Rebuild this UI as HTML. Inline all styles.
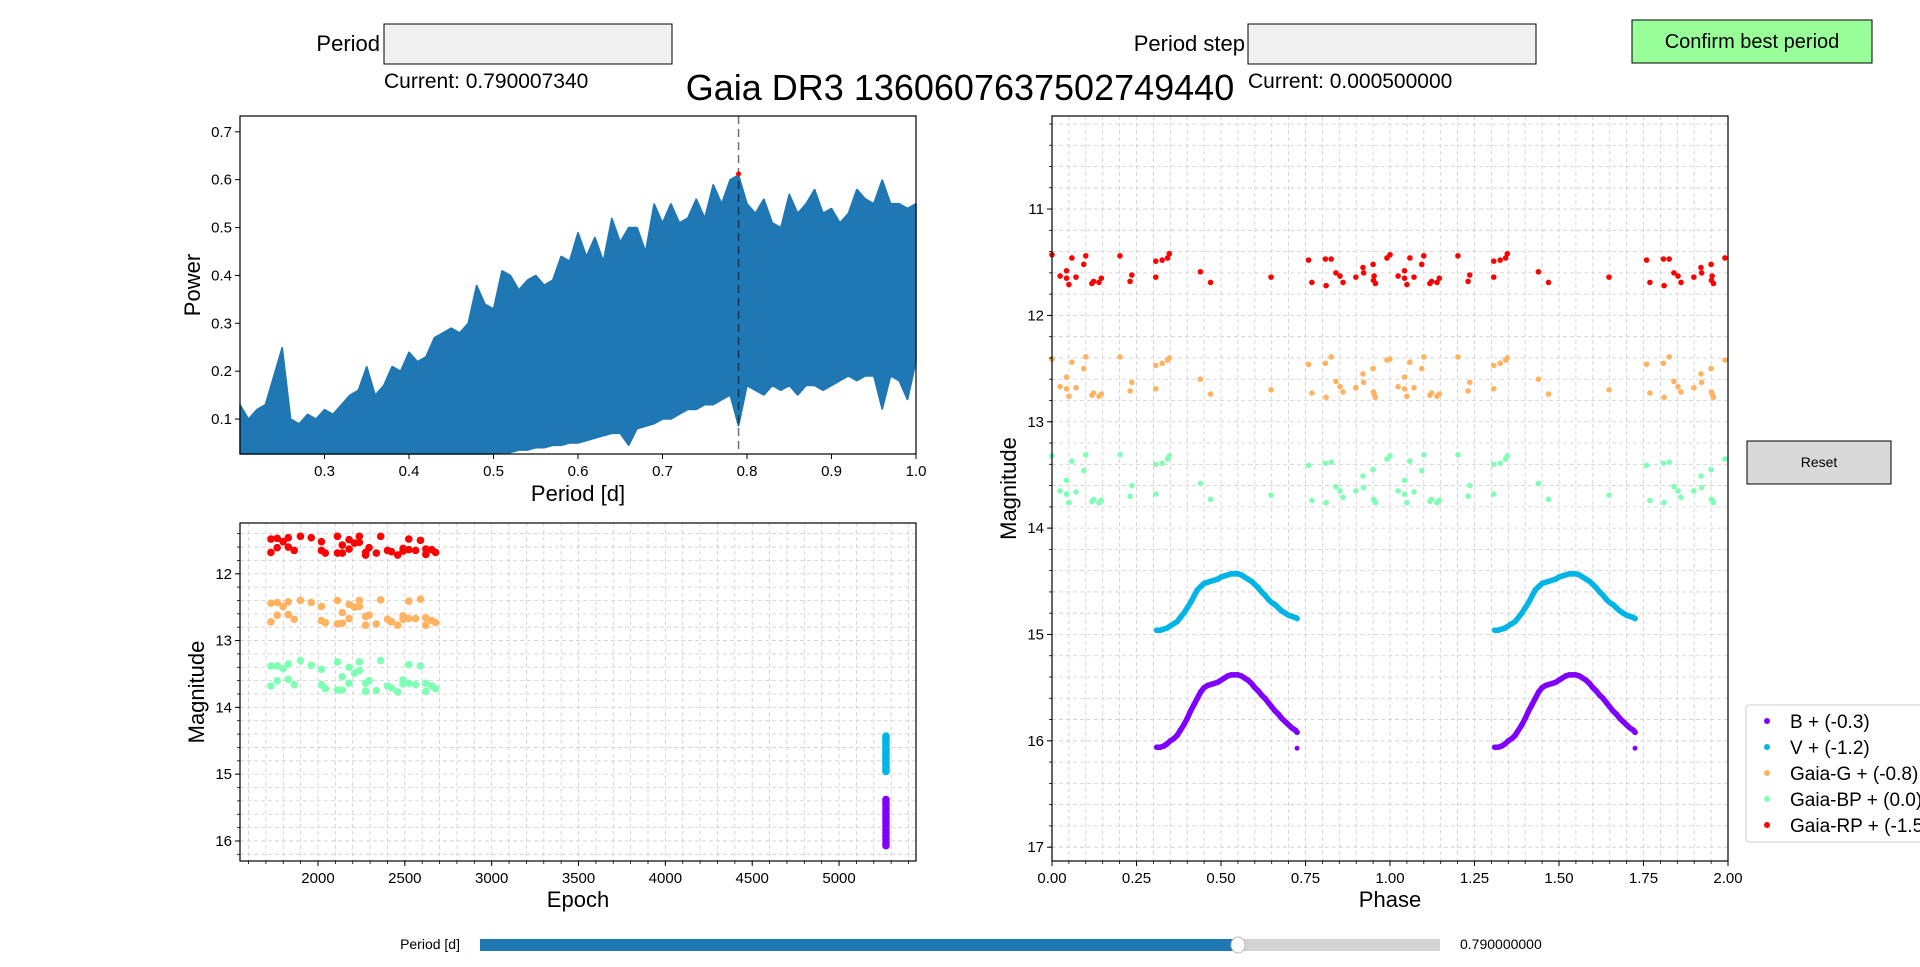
<!DOCTYPE html>
<html><head><meta charset="utf-8"><style>
html,body{margin:0;padding:0;background:#fff;width:1920px;height:967px;overflow:hidden}
svg{display:block;font-family:"Liberation Sans","DejaVu Sans",sans-serif}
</style></head><body>
<svg id="fig" width="1920" height="967" viewBox="0 0 1920 967" xmlns="http://www.w3.org/2000/svg">
<text x="960" y="100" font-size="36" text-anchor="middle">Gaia DR3 1360607637502749440</text>
<text x="380" y="51" font-size="22" text-anchor="end">Period</text>
<rect x="384" y="24" width="288" height="40" fill="#f1f1f1" stroke="#000" stroke-width="1"/>
<text x="384" y="88" font-size="21">Current: 0.790007340</text>
<text x="1245" y="51" font-size="22" text-anchor="end">Period step</text>
<rect x="1248" y="24" width="288" height="40" fill="#f1f1f1" stroke="#000" stroke-width="1"/>
<text x="1248" y="88" font-size="21">Current: 0.000500000</text>
<g><rect x="1632" y="20" width="240" height="43" fill="#99ff99" stroke="#000" stroke-width="1"/><text x="1752" y="48" font-size="20" text-anchor="middle">Confirm best period</text></g>
<g><rect x="1747" y="441" width="144" height="43" fill="#d9d9d9" stroke="#000" stroke-width="1"/><text x="1819" y="467" font-size="14" text-anchor="middle">Reset</text></g>
<g>
<text x="460" y="949" font-size="14" text-anchor="end">Period [d]</text>
<rect x="480" y="939" width="960" height="12" fill="#d3d3d3"/>
<rect x="480" y="939" width="758" height="12" fill="#1f77b4"/>
<ellipse cx="1238" cy="945" rx="7" ry="8" fill="#fff" stroke="#bbb"/>
<text x="1460" y="949" font-size="14">0.790000000</text>
</g>
<g id="g1"></g>
<g id="g2"></g>
<g id="g3"></g>
<g>
<rect x="1746" y="705" width="190" height="137" fill="#fff" stroke="#ccc" rx="3"/>
<circle cx="1767" cy="721" r="3" fill="#8000ff"/><text x="1790" y="728" font-size="19">B + (-0.3)</text>
<circle cx="1767" cy="747" r="3" fill="#00b4e6"/><text x="1790" y="754" font-size="19">V + (-1.2)</text>
<circle cx="1767" cy="773" r="3" fill="#ffb360"/><text x="1790" y="780" font-size="19">Gaia-G + (-0.8)</text>
<circle cx="1767" cy="799" r="3" fill="#80ffb4"/><text x="1790" y="806" font-size="19">Gaia-BP + (0.0)</text>
<circle cx="1767" cy="825" r="3" fill="#ff0000"/><text x="1790" y="832" font-size="19">Gaia-RP + (-1.5)</text>
</g>
</svg>
<script>
// ---- periodogram data ----
const pgPeriods=[0.20,0.21,0.22,0.23,0.24,0.25,0.26,0.27,0.28,0.29,0.30,0.31,0.32,0.33,0.34,0.35,0.36,0.37,0.38,0.39,0.40,0.41,0.42,0.43,0.44,0.45,0.46,0.47,0.48,0.49,0.50,0.51,0.52,0.53,0.54,0.55,0.56,0.57,0.58,0.59,0.60,0.61,0.62,0.63,0.64,0.65,0.66,0.67,0.68,0.69,0.70,0.71,0.72,0.73,0.74,0.75,0.76,0.77,0.78,0.79,0.80,0.81,0.82,0.83,0.84,0.85,0.86,0.87,0.88,0.89,0.90,0.91,0.92,0.93,0.94,0.95,0.96,0.97,0.98,0.99,1.00];
const pgUpper=[0.13,0.10,0.12,0.13,0.19,0.25,0.10,0.09,0.11,0.10,0.12,0.11,0.13,0.15,0.16,0.21,0.15,0.17,0.21,0.20,0.24,0.22,0.23,0.27,0.28,0.29,0.28,0.30,0.38,0.34,0.33,0.41,0.40,0.37,0.39,0.40,0.38,0.39,0.44,0.43,0.49,0.44,0.48,0.43,0.52,0.47,0.50,0.50,0.45,0.55,0.51,0.55,0.51,0.52,0.56,0.52,0.59,0.55,0.60,0.61,0.55,0.53,0.56,0.51,0.50,0.57,0.53,0.55,0.58,0.53,0.54,0.51,0.53,0.58,0.56,0.55,0.60,0.55,0.55,0.54,0.55];
const pgLower=[0.027,0.027,0.027,0.027,0.027,0.027,0.027,0.027,0.027,0.027,0.027,0.027,0.027,0.027,0.027,0.027,0.027,0.027,0.027,0.027,0.027,0.027,0.027,0.027,0.027,0.027,0.027,0.027,0.027,0.027,0.027,0.03,0.03,0.035,0.035,0.04,0.04,0.045,0.045,0.05,0.05,0.055,0.06,0.065,0.07,0.07,0.045,0.08,0.085,0.09,0.10,0.10,0.11,0.12,0.12,0.13,0.13,0.14,0.15,0.085,0.17,0.16,0.15,0.17,0.16,0.17,0.15,0.17,0.17,0.16,0.17,0.18,0.19,0.18,0.19,0.19,0.12,0.19,0.18,0.14,0.22];
const bestPeriod=0.79, bestPower=0.612;
const pgXTicks=[0.3,0.4,0.5,0.6,0.7,0.8,0.9,1.0];
const pgYTicks=[0.1,0.2,0.3,0.4,0.5,0.6,0.7];
// ---- light curve data ----
const bPhase=[0.31,0.32,0.33,0.34,0.35,0.36,0.37,0.38,0.39,0.40,0.41,0.42,0.43,0.44,0.45,0.46,0.47,0.48,0.49,0.50,0.51,0.52,0.53,0.54,0.55,0.56,0.57,0.58,0.59,0.60,0.61,0.62,0.63,0.64,0.65,0.66,0.67,0.68,0.69,0.70,0.71,0.72,0.725];
const bMag=[16.06,16.06,16.05,16.03,16.00,15.98,15.95,15.90,15.85,15.79,15.72,15.66,15.60,15.54,15.50,15.48,15.47,15.46,15.45,15.43,15.41,15.39,15.38,15.38,15.38,15.39,15.41,15.43,15.46,15.50,15.53,15.57,15.60,15.64,15.68,15.72,15.75,15.79,15.82,15.85,15.88,15.90,15.92];
const vPhase=[0.31,0.32,0.33,0.34,0.35,0.36,0.37,0.38,0.39,0.40,0.41,0.42,0.43,0.44,0.45,0.46,0.47,0.48,0.49,0.50,0.51,0.52,0.53,0.54,0.55,0.56,0.57,0.58,0.59,0.60,0.61,0.62,0.63,0.64,0.65,0.66,0.67,0.68,0.69,0.70,0.71,0.72,0.725];
const vMag=[14.96,14.96,14.95,14.94,14.92,14.90,14.88,14.84,14.80,14.75,14.70,14.64,14.58,14.55,14.52,14.51,14.50,14.49,14.48,14.46,14.45,14.44,14.43,14.43,14.43,14.44,14.46,14.48,14.50,14.53,14.56,14.60,14.63,14.67,14.70,14.72,14.75,14.78,14.80,14.82,14.83,14.84,14.85];
const bOutlierPhase=[0.725], bOutlierMag=[16.07];
const bvEpoch=[5270,5270,5270,5270,5270,5270,5270,5270,5270,5270,5270,5270,5270,5270,5270,5270];
const bEpochMag=[15.38,15.42,15.46,15.51,15.55,15.60,15.64,15.69,15.73,15.78,15.83,15.88,15.93,15.98,16.03,16.07];
const vEpochMag=[14.43,14.47,14.50,14.54,14.57,14.61,14.64,14.68,14.71,14.75,14.78,14.82,14.85,14.89,14.93,14.96];
const gaiaPhase=[0.0,0.024,0.043,0.043,0.05,0.059,0.071,0.094,0.1,0.118,0.123,0.139,0.146,0.201,0.231,0.236,0.307,0.307,0.326,0.342,0.347,0.439,0.469,0.648,0.759,0.769,0.809,0.811,0.826,0.84,0.852,0.861,0.899,0.92,0.922,0.95,0.951,0.953,0.957,0.991];
const rpPhaseMag=[11.43,11.63,11.58,11.65,11.71,11.46,11.64,11.52,11.44,11.70,11.68,11.69,11.65,11.44,11.68,11.62,11.64,11.49,11.48,11.46,11.42,11.59,11.69,11.64,11.48,11.69,11.47,11.72,11.47,11.60,11.63,11.69,11.64,11.55,11.60,11.52,11.67,11.63,11.70,11.46];
const gPhaseMag=[12.41,12.67,12.58,12.69,12.76,12.44,12.68,12.50,12.39,12.75,12.73,12.76,12.74,12.39,12.71,12.63,12.69,12.47,12.45,12.42,12.40,12.60,12.74,12.70,12.46,12.73,12.45,12.77,12.39,12.62,12.67,12.72,12.68,12.55,12.63,12.50,12.72,12.74,12.77,12.42];
const bpPhaseMag=[13.32,13.65,13.55,13.68,13.76,13.37,13.66,13.46,13.31,13.75,13.73,13.76,13.74,13.31,13.70,13.60,13.68,13.40,13.39,13.35,13.32,13.58,13.73,13.69,13.41,13.74,13.39,13.76,13.38,13.61,13.65,13.71,13.65,13.51,13.62,13.45,13.73,13.74,13.76,13.35];
const gaiaEpoch=[1729,1729,1765,1765,1799,1829,1829,1863,1899,1961,2020,2020,2042,2112,2112,2140,2140,2179,2179,2210,2238,2238,2274,2274,2294,2336,2361,2400,2423,2459,2490,2490,2523,2523,2562,2590,2621,2621,2655,2677];
const rpEpochMag=[11.48,11.68,11.47,11.61,11.52,11.46,11.60,11.65,11.44,11.46,11.52,11.65,11.69,11.44,11.69,11.57,11.69,11.49,11.63,11.54,11.44,11.53,11.68,11.72,11.61,11.69,11.44,11.65,11.67,11.72,11.62,11.66,11.48,11.64,11.65,11.50,11.63,11.71,11.64,11.68];
const gEpochMag=[12.44,12.72,12.43,12.62,12.49,12.42,12.61,12.68,12.40,12.43,12.49,12.70,12.73,12.40,12.75,12.58,12.74,12.46,12.67,12.50,12.40,12.49,12.64,12.77,12.62,12.75,12.39,12.68,12.72,12.77,12.63,12.68,12.41,12.67,12.67,12.38,12.66,12.77,12.70,12.73];
const bpEpochMag=[13.38,13.68,13.38,13.60,13.42,13.35,13.58,13.66,13.30,13.37,13.43,13.66,13.72,13.32,13.74,13.54,13.74,13.40,13.64,13.49,13.32,13.45,13.64,13.76,13.60,13.75,13.30,13.68,13.71,13.77,13.59,13.65,13.36,13.64,13.66,13.38,13.64,13.76,13.68,13.72];
const epochXTicks=[2000,2500,3000,3500,4000,4500,5000];
const epochYTicks=[12,13,14,15,16];
const phaseXTicks=[0.00,0.25,0.50,0.75,1.00,1.25,1.50,1.75,2.00];
const phaseYTicks=[11,12,13,14,15,16,17];

const NS="http://www.w3.org/2000/svg";
function mk(parent,tag,attrs){const e=document.createElementNS(NS,tag);for(const k in attrs)e.setAttribute(k,attrs[k]);parent.appendChild(e);return e;}
function lin(d0,d1,r0,r1){return v=>r0+(v-d0)*(r1-r0)/(d1-d0);}

function axesFrame(g,L,T,R,B){
  const r=mk(g,'rect',{x:L,y:T,width:R-L,height:B-T,fill:'none',stroke:'#000','stroke-width':1.2});
  
  
}
function grid(g,L,T,R,B,xs,ys,X,Y){
  xs.forEach(v=>{const l=mk(g,'line',{x1:X(v),x2:X(v),y1:T,y2:B,stroke:'#cfcfcf','stroke-width':0.8,'stroke-dasharray':'4,3'});
    
    });
  ys.forEach(v=>{const l=mk(g,'line',{x1:L,x2:R,y1:Y(v),y2:Y(v),stroke:'#cfcfcf','stroke-width':0.8,'stroke-dasharray':'4,3'});
    
    });
}
function ticks(g,L,B,xt,yt,X,Y,fmtx,fmty,xmin,ymin){
  xt.forEach(v=>{mk(g,'line',{x1:X(v),x2:X(v),y1:B,y2:B+5,stroke:'#000'});
    const t=mk(g,'text',{x:X(v),y:B+22,'font-size':15,'text-anchor':'middle'});t.textContent=fmtx(v);
    
    });
  yt.forEach(v=>{mk(g,'line',{x1:L-5,x2:L,y1:Y(v),y2:Y(v),stroke:'#000'});
    const t=mk(g,'text',{x:L-8,y:Y(v)+5,'font-size':15,'text-anchor':'end'});t.textContent=fmty(v);
    
    });
  (xmin||[]).forEach(v=>mk(g,'line',{x1:X(v),x2:X(v),y1:B,y2:B+3,stroke:'#000','stroke-width':0.8}));
  (ymin||[]).forEach(v=>mk(g,'line',{x1:L-3,x2:L,y1:Y(v),y2:Y(v),stroke:'#000','stroke-width':0.8}));
}
function label(g,x,y,txt,rot,name){
  const t=mk(g,'text',{x:x,y:y,'font-size':22,'text-anchor':'middle'});
  if(rot)t.setAttribute('transform','rotate(-90 '+x+' '+y+')');
  t.textContent=txt;
  
  
}
function dots(g,xs,ys,X,Y,r,c,name){
  xs.forEach((v,i)=>{const d=mk(g,'circle',{cx:X(v),cy:Y(ys[i]),r:r,fill:c});
    
    });
}

// ---- Panel 1: periodogram ----
(function(){
  const g=document.getElementById('g1');const L=240,T=116,R=916,B=454;
  const X=lin(0.2,1.0,L,R),Y=lin(0.027,0.733,B,T);
  let d='M'+X(pgPeriods[0])+','+Y(pgLower[0]);
  pgPeriods.forEach((p,i)=>{d+=' L'+X(p)+','+Y(pgUpper[i]);});
  for(let i=pgPeriods.length-1;i>=0;i--)d+=' L'+X(pgPeriods[i])+','+Y(pgLower[i]);
  const a=mk(g,'path',{d:d+'Z',fill:'#1f77b4',stroke:'#1f77b4','stroke-width':1.5,'stroke-linejoin':'bevel'});
  
  
  const v=mk(g,'line',{x1:X(bestPeriod),x2:X(bestPeriod),y1:T,y2:B,stroke:'#000','stroke-opacity':0.55,'stroke-width':1.5,'stroke-dasharray':'8,5'});
  
  
  const p=mk(g,'circle',{cx:X(bestPeriod),cy:Y(bestPower),r:2.5,fill:'red'});
  
  
  axesFrame(g,L,T,R,B);
  ticks(g,L,B,pgXTicks,pgYTicks,X,Y,v=>v.toFixed(1),v=>v.toFixed(1));
  label(g,(L+R)/2,501,'Period [d]',false,'x-axis-title');
  label(g,200,(T+B)/2,'Power',true,'y-axis-title');
})();

// ---- Panel 2: epoch ----
(function(){
  const g=document.getElementById('g2');const L=240,T=523,R=916,B=861;
  const X=lin(1551,5443,L,R),Y=lin(11.24,16.30,T,B);
  const gx=[],gy=[];for(let v=1600;v<=5400;v+=100)gx.push(v);for(let v=11.4;v<=16.21;v+=0.2)gy.push(+v.toFixed(1));
  grid(g,L,T,R,B,gx,gy,X,Y);
  dots(g,gaiaEpoch,rpEpochMag,X,Y,3.8,'#ff0000','epoch-point-gaia-rp');
  dots(g,gaiaEpoch,gEpochMag,X,Y,3.8,'#ffb360','epoch-point-gaia-g');
  dots(g,gaiaEpoch,bpEpochMag,X,Y,3.8,'#80ffb4','epoch-point-gaia-bp');
  dots(g,bvEpoch,vEpochMag,X,Y,3.8,'#00b4e6','epoch-point-v');
  dots(g,bvEpoch,bEpochMag,X,Y,3.8,'#8000ff','epoch-point-b');
  axesFrame(g,L,T,R,B);
  ticks(g,L,B,epochXTicks,epochYTicks,X,Y,v=>String(v),v=>String(v),gx,gy);
  label(g,(L+R)/2,907,'Epoch',false,'x-axis-title');
  label(g,204,(T+B)/2,'Magnitude',true,'y-axis-title');
})();

// ---- Panel 3: phase ----
(function(){
  const g=document.getElementById('g3');const L=1052,T=116,R=1728,B=861;
  const X=lin(0,2,L,R),Y=lin(10.125,17.13,T,B);
  const gx=[],gy=[];for(let v=0.05;v<2;v+=0.05)gx.push(+v.toFixed(2));for(let v=10.2;v<=17.01;v+=0.2)gy.push(+v.toFixed(1));
  grid(g,L,T,R,B,gx,gy,X,Y);
  [0,1].forEach(sh=>{
    const s=a=>a.map(v=>v+sh);
    dots(g,s(gaiaPhase),rpPhaseMag,X,Y,2.8,'#ff0000','phase-point-gaia-rp');
    dots(g,s(gaiaPhase),gPhaseMag,X,Y,2.8,'#ffb360','phase-point-gaia-g');
    dots(g,s(gaiaPhase),bpPhaseMag,X,Y,2.8,'#80ffb4','phase-point-gaia-bp');
    [[vPhase,vMag,'#00b4e6','v'],[bPhase,bMag,'#8000ff','b']].forEach(([ph,mg,c,n])=>{
      const pts=ph.map((v,i)=>X(v+sh)+','+Y(mg[i])).join(' ');
      const pl=mk(g,'polyline',{points:pts,fill:'none',stroke:c,'stroke-width':5.5,'stroke-linecap':'round','stroke-linejoin':'round'});
      
      
      dots(g,s(ph),mg,X,Y,2.8,c,'phase-point-'+n);
    });
    dots(g,s(bOutlierPhase),bOutlierMag,X,Y,2.5,'#8000ff','phase-point-b');
  });
  axesFrame(g,L,T,R,B);
  ticks(g,L,B,phaseXTicks,phaseYTicks,X,Y,v=>v.toFixed(2),v=>String(v),gx,gy);
  label(g,(L+R)/2,907,'Phase',false,'x-axis-title');
  label(g,1016,(T+B)/2,'Magnitude',true,'y-axis-title');
})();
</script>
</body></html>
